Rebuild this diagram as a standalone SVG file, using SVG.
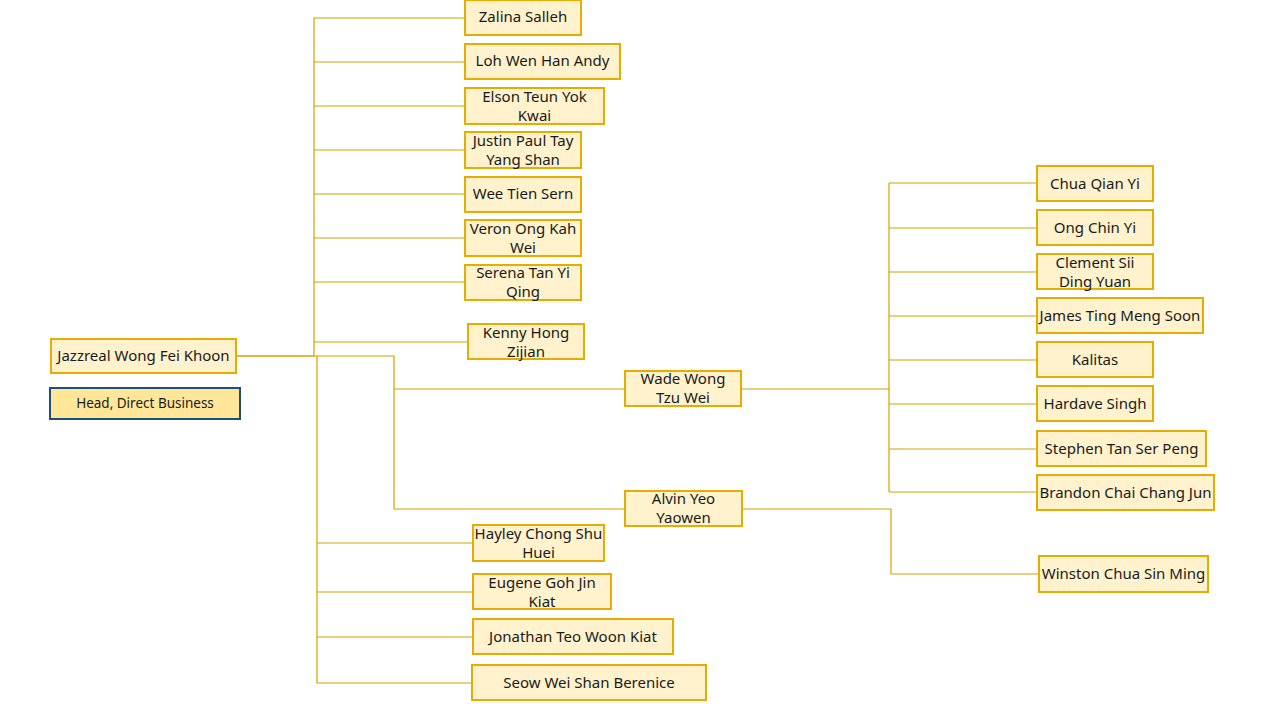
<svg xmlns="http://www.w3.org/2000/svg" width="1280" height="720" viewBox="0 0 1280 720">
<style>
.n{fill:#FFF2CC;stroke:#E6AC00;stroke-width:2}
.h{fill:#FFE699;stroke:#1F4E79;stroke-width:2}
text{font-family:"Noto Sans","Open Sans",sans-serif;font-size:15px;fill:#1a1a1a;text-anchor:middle;dominant-baseline:central}
.s{font-size:13.5px}
#connectors path{fill:none;stroke:#D4A200;stroke-width:1.2}
</style>
<rect width="1280" height="720" fill="#fff"/>
<g id="connectors">
<path d="M236 356H314V18H465M314 62H465M314 106H465M314 150H465M314 194H465M314 238H465M314 282H465M314 342H468"/>
<path d="M236 356H317V683H472M317 543H473M317 592H473M317 637H473"/>
<path d="M317 356H394V509H625M394 389H625"/>
<path d="M741 389H889M889 183V492M889 183H1037M889 228H1037M889 272H1037M889 316H1037M889 360H1037M889 404H1037M889 449H1037M889 492H1037"/>
<path d="M742 509H891V574H1039"/>
</g>
<g id="jazzreal"><rect class="n" x="51" y="339" width="185" height="34"/><text x="143.5" y="355">Jazzreal Wong Fei Khoon</text></g>
<g id="head"><rect class="h" x="50" y="388" width="190" height="31"/><text class="s" x="145" y="403">Head, Direct Business</text></g>
<g id="zalina"><rect class="n" x="465" y="0" width="116" height="35"/><text x="523" y="16">Zalina Salleh</text></g>
<g id="loh"><rect class="n" x="465" y="44" width="155" height="35"/><text x="542.5" y="60">Loh Wen Han Andy</text></g>
<g id="elson"><rect class="n" x="465" y="88" width="139" height="36"/><text x="534.5" y="95.5">Elson Teun Yok</text><text x="534.5" y="114.5">Kwai</text></g>
<g id="justin"><rect class="n" x="465" y="132" width="116" height="36"/><text x="523" y="139.5">Justin Paul Tay</text><text x="523" y="158.5">Yang Shan</text></g>
<g id="wee"><rect class="n" x="465" y="177" width="116" height="35"/><text x="523" y="193">Wee Tien Sern</text></g>
<g id="veron"><rect class="n" x="465" y="220" width="116" height="36"/><text x="523" y="227.5">Veron Ong Kah</text><text x="523" y="246.5">Wei</text></g>
<g id="serena"><rect class="n" x="465" y="265" width="116" height="35"/><text x="523" y="271.5">Serena Tan Yi</text><text x="523" y="290.5">Qing</text></g>
<g id="kenny"><rect class="n" x="468" y="324" width="116" height="35"/><text x="526" y="331.5">Kenny Hong</text><text x="526" y="350.5">Zijian</text></g>
<g id="wade"><rect class="n" x="625" y="371" width="116" height="35"/><text x="683" y="377.5">Wade Wong</text><text x="683" y="396.5">Tzu Wei</text></g>
<g id="alvin"><rect class="n" x="625" y="491" width="117" height="35"/><text x="683.5" y="498">Alvin Yeo</text><text x="683.5" y="517">Yaowen</text></g>
<g id="hayley"><rect class="n" x="473" y="525" width="131" height="36"/><text x="538.5" y="532.5">Hayley Chong Shu</text><text x="538.5" y="551.5">Huei</text></g>
<g id="eugene"><rect class="n" x="473" y="574" width="138" height="35"/><text x="542" y="581.5">Eugene Goh Jin</text><text x="542" y="600.5">Kiat</text></g>
<g id="jonathan"><rect class="n" x="473" y="619" width="200" height="35"/><text x="573" y="635.5">Jonathan Teo Woon Kiat</text></g>
<g id="seow"><rect class="n" x="472" y="665" width="234" height="35"/><text x="589" y="681.5">Seow Wei Shan Berenice</text></g>
<g id="chua"><rect class="n" x="1037" y="166" width="116" height="35"/><text x="1095" y="182.5">Chua Qian Yi</text></g>
<g id="ong"><rect class="n" x="1037" y="210" width="116" height="35"/><text x="1095" y="226.5">Ong Chin Yi</text></g>
<g id="clement"><rect class="n" x="1037" y="254" width="116" height="35"/><text x="1095" y="261.5">Clement Sii</text><text x="1095" y="280.5">Ding Yuan</text></g>
<g id="james"><rect class="n" x="1037" y="298" width="166" height="35"/><text x="1120" y="314.5">James Ting Meng Soon</text></g>
<g id="kalitas"><rect class="n" x="1037" y="342" width="116" height="35"/><text x="1095" y="358.5">Kalitas</text></g>
<g id="hardave"><rect class="n" x="1037" y="386" width="116" height="35"/><text x="1095" y="403">Hardave Singh</text></g>
<g id="stephen"><rect class="n" x="1037" y="431" width="169" height="35"/><text x="1121.5" y="447.5">Stephen Tan Ser Peng</text></g>
<g id="brandon"><rect class="n" x="1037" y="475" width="177" height="35"/><text x="1125.5" y="491.5">Brandon Chai Chang Jun</text></g>
<g id="winston"><rect class="n" x="1039" y="556" width="169" height="36"/><text x="1123.5" y="573">Winston Chua Sin Ming</text></g>
</svg>
